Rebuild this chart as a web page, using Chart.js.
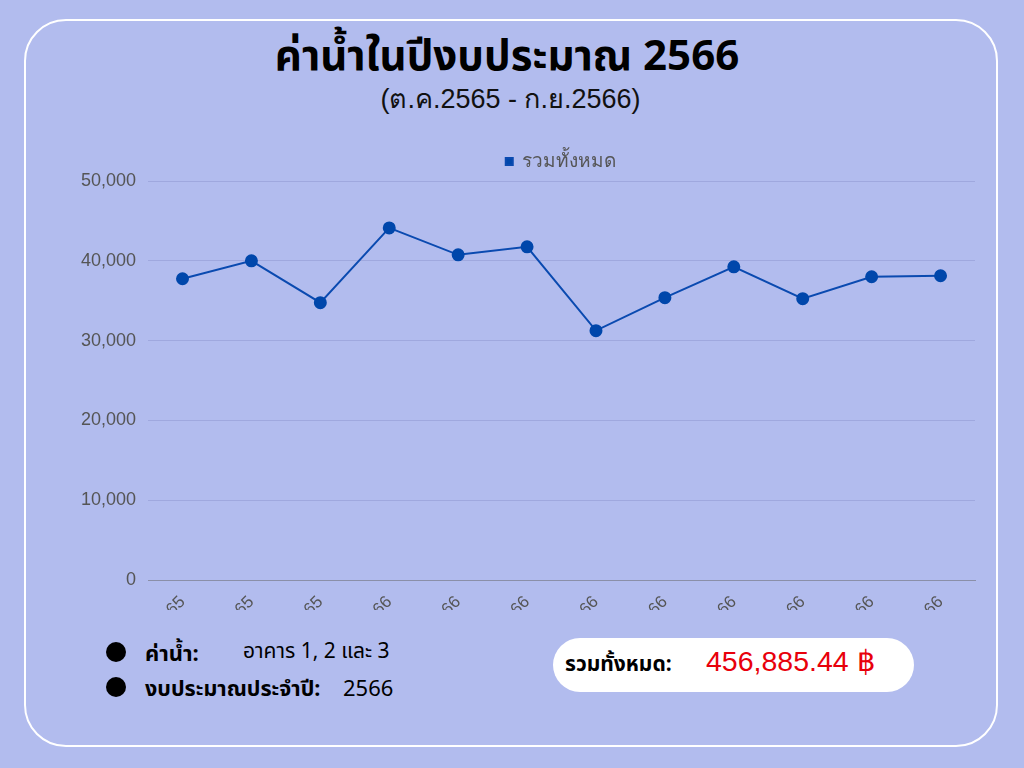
<!DOCTYPE html>
<html>
<head>
<meta charset="utf-8">
<script src="https://cdn.jsdelivr.net/npm/chart.js@4.4.0/dist/chart.umd.min.js"></script>
<style>
  html,body{margin:0;padding:0;width:1024px;height:768px;overflow:hidden;background:#b2bcee;font-family:"Noto Sans Thai","Noto Sans",Roboto,sans-serif;}
  #card{position:absolute;left:24px;top:19px;width:970px;height:724px;border:2px solid #fff;border-radius:42px;}
  #title{position:absolute;left:0;width:1014px;top:25px;text-align:center;font-size:42px;font-weight:bold;color:#000;}
  #sub{position:absolute;left:0;width:1021px;top:77px;text-align:center;font-size:27px;color:#111;font-family:"Liberation Sans","Noto Sans",sans-serif;}
  #wrap{position:absolute;left:69px;top:140px;width:990px;height:470px;}
  .dot{position:absolute;width:20px;height:20px;border-radius:50%;background:#000;}
  .lbl{position:absolute;font-size:21px;color:#000;}
  .b{font-weight:bold;}
  #pill{position:absolute;left:553px;top:638px;width:361px;height:54px;background:#fff;border-radius:27px;}
</style>
</head>
<body>
<div id="card"></div>
<div id="title">ค่าน้ำในปีงบประมาณ 2566</div>
<div id="sub">(ต.ค.2565 - ก.ย.2566)</div>
<div id="wrap"><canvas id="c"></canvas></div>
<div class="dot" style="left:106px;top:642px"></div>
<div class="dot" style="left:106px;top:677px"></div>
<div class="lbl b" style="left:145px;top:638px;font-size:22px">ค่าน้ำ:</div>
<div class="lbl" style="left:243px;top:636px">อาคาร 1, 2 และ 3</div>
<div class="lbl b" style="left:145px;top:673px;font-size:21.5px">งบประมาณประจำปี:</div>
<div class="lbl" style="left:343px;top:673px;font-size:22px">2566</div>
<div id="pill"></div>
<div class="lbl b" style="left:565px;top:649px">รวมทั้งหมด:</div>
<div class="lbl" style="left:706px;top:645px;font-size:28.5px;color:#e8000b;font-family:'Liberation Sans','Noto Sans',sans-serif">456,885.44 ฿</div>
<script>
const months = ["ต.ค.65","พ.ย.65","ธ.ค.65","ม.ค.66","ก.พ.66","มี.ค.66","เม.ย.66","พ.ค.66","มิ.ย.66","ก.ค.66","ส.ค.66","ก.ย.66"];
const totals = [37750,40000,34750,44125,40750,41750,31250,35375,39250,35250,38000,38125];
const seriesName = "รวมทั้งหมด";
const yTicks = [0,10000,20000,30000,40000,50000];

const canvasLeft = 69;
const legendCenterX = 561;

const shiftLegend = {
  id: 'shiftLegend',
  afterLayout(chart) {
    const lg = chart.legend;
    if (!lg) return;
    const cur = (lg.left + lg.right) / 2;
    const d = (legendCenterX - canvasLeft) - cur;
    lg.left += d; lg.right += d;
  }
};

new Chart(document.getElementById('c'), {
  type: 'line',
  data: {
    labels: months,
    datasets: [{
      label: seriesName,
      data: totals,
      borderColor: '#0a4ab0',
      backgroundColor: '#0047ab',
      pointBackgroundColor: '#0047ab',
      pointBorderColor: '#0047ab',
      borderWidth: 2,
      pointRadius: 5.5,
      tension: 0
    }]
  },
  plugins: [shiftLegend],
  options: {
    responsive: true,
    maintainAspectRatio: false,
    animation: false,
    layout: { padding: { left: 0, right: 84, top: 0, bottom: 0 } },
    plugins: {
      legend: {
        display: true,
        position: 'top',
        labels: {
          color: '#555',
          font: { size: 19, family: '"Liberation Sans", Roboto, sans-serif' },
          boxWidth: 7, boxHeight: 7,
          usePointStyle: false,
          padding: 12
        }
      },
      tooltip: { enabled: false }
    },
    scales: {
      x: {
        offset: true,
        grid: { display: false },
        border: { display: true, color: '#8a8fa8', width: 1 },
        ticks: { color: '#555', font: { size: 17, family: '"Liberation Sans", sans-serif' }, minRotation: 45, maxRotation: 45, padding: 4 },
        afterFit: (s) => { s.height = 30; }
      },
      y: {
        min: 0, max: 50000,
        afterBuildTicks: (s) => { s.ticks = yTicks.map(v => ({ value: v })); },
        grid: { color: 'rgba(90,100,170,0.22)', drawTicks: false },
        border: { display: false },
        ticks: {
          color: '#555', font: { size: 18, family: '"Liberation Sans", Arial, sans-serif' }, padding: 12,
          callback: (v) => v.toLocaleString('en-US')
        }
      }
    }
  }
});
</script>
</body>
</html>
